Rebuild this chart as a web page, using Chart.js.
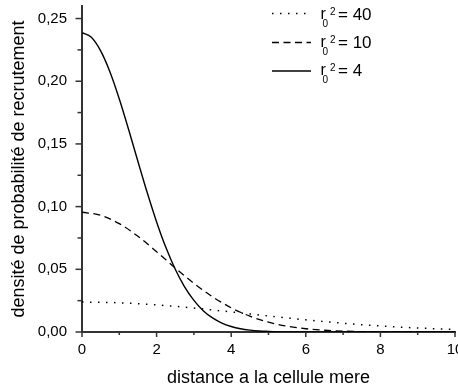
<!DOCTYPE html>
<html><head><meta charset="utf-8">
<script src="https://cdn.jsdelivr.net/npm/chart.js@4/dist/chart.umd.min.js"></script>
<style>html,body{margin:0;padding:0;background:#fff}#wrap{width:458px;height:389px}</style>
</head><body><div id="wrap"><canvas id="c" width="458" height="389"></canvas></div>
<script>
// x positions (distance a la cellule mere)
const xFine = [0,0.25,0.5,0.75,1,1.25,1.5,1.75,2,2.25,2.5,2.75,3,3.25,3.5,3.75,4,4.25,4.5,4.75,5,5.5,6,7,8,9,10];
const xHalf = [0,0.5,1,1.5,2,2.5,3,3.5,4,4.5,5,5.5,6,6.5,7,7.5,8,8.5,9,9.5,10];
const xUnit = [0,1,2,3,4,5,6,7,8,9,10];
// r0^2 = 4 (solid)
const r4 = [0.2387,0.2350,0.2242,0.2074,0.1859,0.1615,0.1360,0.1110,0.0878,0.0673,0.0500,0.0360,0.0252,0.0170,0.0112,0.0071,0.0044,0.0026,0.0015,0.0008,0.0005,0.0001,0.0000,0,0,0,0];
// r0^2 = 10 (dashed)
const r10 = [0.0955,0.0931,0.0864,0.0763,0.0640,0.0511,0.0388,0.0281,0.0193,0.0126,0.0078,0.0046,0.0026,0.0014,0.0007,0.0003,0.0002,0.0001,0.0000,0,0];
// r0^2 = 40 (dotted)
const r40 = [0.0239,0.0233,0.0216,0.0191,0.0160,0.0128,0.0097,0.0070,0.0048,0.0032,0.0020];
const legendLabels = ['40','10','4'];
const xTitle = 'distance a la cellule mere';
const yTitle = 'densité de probabilité de recrutement';

const pts = (xs, ys) => xs.map((x,i)=>({x, y: ys[i]}));
const AX = '#333333';
const FONT = 'Arial, "Liberation Sans", sans-serif';

const ticksPlugin = {
  id: 'minorTicks',
  afterDraw(chart) {
    const ctx = chart.ctx, xs = chart.scales.x, ys = chart.scales.y;
    ctx.save();
    ctx.strokeStyle = AX; ctx.lineWidth = 1.5;
    const yb = ys.getPixelForValue(0), xl = xs.getPixelForValue(0);
    for (let v = 0; v <= 10; v += 1) {
      const p = xs.getPixelForValue(v), L = (v % 2 === 0) ? 5 : 3;
      ctx.beginPath(); ctx.moveTo(p, yb); ctx.lineTo(p, yb + L); ctx.stroke();
    }
    for (let k = 0; k <= 10; k++) {
      const v = k * 0.025, p = ys.getPixelForValue(v), L = (k % 2 === 0) ? 6.5 : 4.5;
      ctx.beginPath(); ctx.moveTo(xl, p); ctx.lineTo(xl - L, p); ctx.stroke();
    }
    // legend
    const rows = [
      {y: 13.5, base: 20, dash: [1.5, 6.5]},
      {y: 42.5, base: 48, dash: [7, 4.5]},
      {y: 71, base: 76, dash: []}
    ];
    rows.forEach((r, i) => {
      ctx.strokeStyle = '#000'; ctx.lineWidth = 1.3; ctx.setLineDash(r.dash);
      ctx.beginPath(); ctx.moveTo(272, r.y); ctx.lineTo(311, r.y); ctx.stroke();
      ctx.setLineDash([]);
      ctx.fillStyle = '#000'; ctx.textBaseline = 'alphabetic'; ctx.textAlign = 'left';
      ctx.font = '16px ' + FONT;
      ctx.fillText('r', 320.5, r.base - 1);
      ctx.font = '10px ' + FONT;
      ctx.fillText('0', 322.5, r.base + 7);
      ctx.fillText('2', 330, r.base - 5);
      ctx.font = '17px ' + FONT;
      ctx.fillText('= ' + legendLabels[i], 338, r.base);
    });
    ctx.restore();
  }
};

new Chart(document.getElementById('c'), {
  type: 'line',
  data: {
    datasets: [
      {data: pts(xUnit, r40), borderColor: '#000', borderWidth: 1.5, borderDash: [1.5, 6.5], pointRadius: 0, cubicInterpolationMode: 'monotone', fill: false},
      {data: pts(xHalf, r10), borderColor: '#000', borderWidth: 1.3, borderDash: [7, 4.5], pointRadius: 0, cubicInterpolationMode: 'monotone', fill: false},
      {data: pts(xFine, r4), borderColor: '#000', borderWidth: 1.4, pointRadius: 0, cubicInterpolationMode: 'monotone', fill: false}
    ]
  },
  options: {
    responsive: false, animation: false,
    layout: {padding: {left: 0, right: 3, top: 6, bottom: 0}},
    plugins: {legend: {display: false}, tooltip: {enabled: false}},
    scales: {
      x: {
        type: 'linear', min: 0, max: 10,
        grid: {display: false},
        border: {display: true, color: AX, width: 2},
        ticks: {stepSize: 2, color: '#000', font: {family: FONT, size: 15}, padding: 1, maxRotation: 0},
        title: {display: true, text: xTitle, color: '#000', font: {family: FONT, size: 18}, padding: {top: 0, bottom: 0}},
        afterFit(s) { s.height = 57; s.paddingLeft = 0; s.paddingRight = 0; }
      },
      y: {
        min: 0, max: 0.26,
        grid: {display: false},
        border: {display: true, color: AX, width: 2},
        ticks: {stepSize: 0.05, includeBounds: false, color: '#000', font: {family: FONT, size: 15}, padding: 7,
          callback: v => v.toFixed(2).replace('.', ',')},
        title: {display: true, text: yTitle, color: '#000', font: {family: FONT, size: 18}, padding: {top: 8, bottom: 4}},
        afterFit(s) { s.width = 82; s.paddingTop = 0; s.paddingBottom = 0; }
      }
    }
  },
  plugins: [ticksPlugin]
});
</script></body></html>
